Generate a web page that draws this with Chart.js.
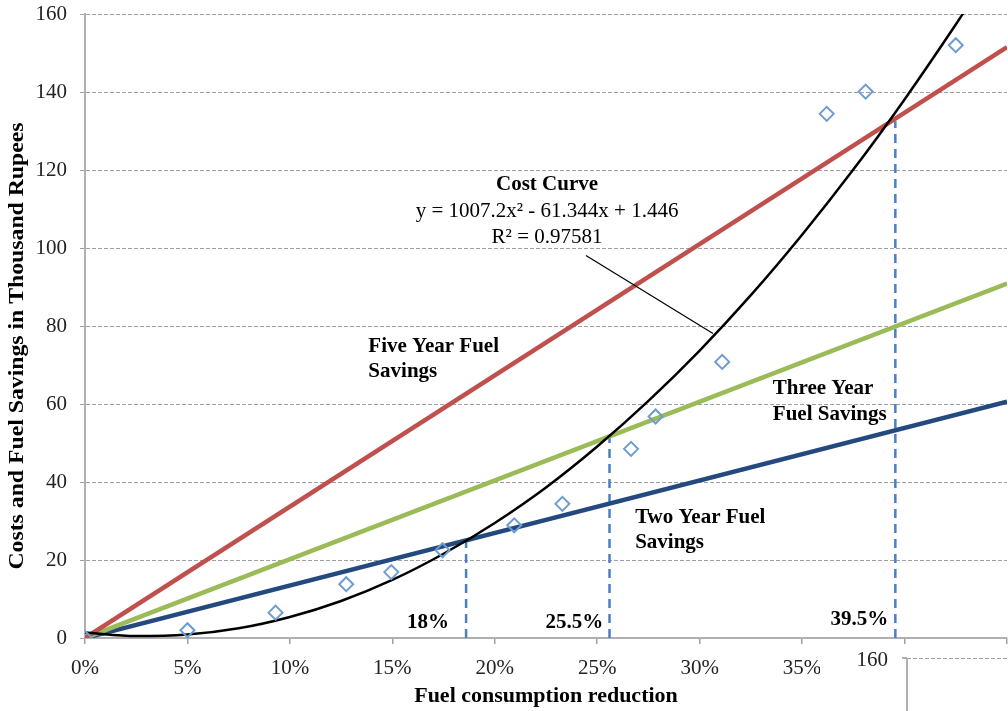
<!DOCTYPE html>
<html lang="en">
<head>
  <meta charset="UTF-8">
  <title>Cost curve and fuel savings</title>
  <style>
    html, body {
      margin: 0;
      padding: 0;
      background: #fff;
    }
    #wrap {
      width: 1008px;
      height: 711px;
    }
  </style>
</head>
<body>
  <div id="wrap"><canvas id="chart" width="1008" height="711"></canvas></div>

  <script src="https://cdn.jsdelivr.net/npm/chart.js"></script>
  <script>
    // savings lines (x in % reduction, y in thousand rupees)
    const lineX = [0, 45];
    const fiveYear = [0, 151.5];
    const threeYear = [0, 90.9];
    const twoYear = [0, 60.6];

    // cost curve
    const costX = [0, 2.5, 5, 7.5, 10, 12.5, 15, 17.5, 20, 22.5, 25, 27.5, 30, 32.5, 35, 37.5, 40, 42.5, 43];
    const costY = [1.4, 0.5, 0.9, 2.5, 5.4, 9.5, 14.9, 21.6, 29.5, 38.6, 49.1, 60.8, 73.7, 87.9, 103.4, 120.1, 138.1, 157.3, 161.3];

    // observed cost points (diamonds)
    const obsX = [0, 5.0, 9.3, 12.75, 14.95, 17.45, 20.95, 23.3, 26.65, 27.85, 31.1, 36.2, 38.1, 42.5];
    const obsY = [0, 2.0, 6.5, 13.8, 16.9, 22.5, 28.9, 34.4, 48.5, 56.8, 70.8, 134.4, 140.1, 152];

    // break-even markers
    const markX = [18.6, 25.6, 39.55];
    const markTop = [24.9, 51.7, 132.5];
    const markText = ['18%', '25.5%', '39.5%'];

    // leader line from the equation to the curve
    const leaderX = [24.45, 30.65];
    const leaderY = [98.1, 78.1];

    const pts = (xs, ys) => xs.map((v, i) => ({ x: v, y: ys[i] }));

    const SERIF = '"Liberation Serif", "Times New Roman", serif';
    Chart.defaults.font.family = SERIF;
    Chart.defaults.font.size = 21;
    Chart.defaults.color = '#222';

    const lineSet = (data, color, width) => ({
      data: data,
      showLine: true,
      borderColor: color,
      backgroundColor: color,
      borderWidth: width,
      pointRadius: 0,
      fill: false
    });

    const datasets = [];
    datasets.push({
      data: pts(obsX, obsY),
      showLine: false,
      pointStyle: 'rectRot',
      pointRadius: 7,
      pointBorderWidth: 2,
      pointBorderColor: '#6d9cd3',
      pointBackgroundColor: 'rgba(255,255,255,0)'
    });
    datasets.push(Object.assign(lineSet(pts(costX, costY), '#000', 2.5), { cubicInterpolationMode: 'monotone' }));
    datasets.push(lineSet(pts(leaderX, leaderY), '#000', 1.2));
    datasets.push(lineSet(pts(lineX, fiveYear), '#c0504d', 4.5));
    datasets.push(lineSet(pts(lineX, threeYear), '#9bbb59', 4.5));
    datasets.push(lineSet(pts(lineX, twoYear), '#24497f', 4.5));
    for (let i = 0; i < markX.length; i++) {
      datasets.push(Object.assign(
        lineSet([{ x: markX[i], y: 0 }, { x: markX[i], y: markTop[i] }], '#4a7fc4', 2.5),
        { borderDash: [9, 6] }
      ));
    }

    const notes = {
      id: 'notes',
      afterDatasetsDraw(chart) {
        const { ctx, scales: { x, y } } = chart;
        const put = (text, xv, yv, align, bold) => {
          ctx.save();
          ctx.font = (bold ? 'bold ' : '') + '21px ' + SERIF;
          ctx.fillStyle = '#000';
          ctx.textAlign = align;
          ctx.textBaseline = 'middle';
          ctx.fillText(text, x.getPixelForValue(xv), y.getPixelForValue(yv));
          ctx.restore();
        };
        put('Cost Curve', 22.55, 116.2, 'center', true);
        put('y = 1007.2x\u00B2 - 61.344x + 1.446', 22.55, 109.3, 'center', false);
        put('R\u00B2 = 0.97581', 22.55, 102.8, 'center', false);
        put('Five Year Fuel', 13.83, 74.6, 'left', true);
        put('Savings', 13.83, 68.2, 'left', true);
        put('Three Year', 33.57, 64.0, 'left', true);
        put('Fuel Savings', 33.57, 57.4, 'left', true);
        put('Two Year Fuel', 26.85, 31.0, 'left', true);
        put('Savings', 26.85, 24.4, 'left', true);
        const tx = [17.77, 25.3, 39.2];
        const ty = [3.9, 3.9, 4.6];
        markText.forEach((t, i) => put(t, tx[i], ty[i], 'right', true));
      },
      afterDraw(chart) {
        const ctx = chart.ctx;
        // y axis title, a little stretched like the original
        ctx.save();
        ctx.translate(18, 346);
        ctx.rotate(-Math.PI / 2);
        ctx.scale(1.13, 1);
        ctx.font = 'bold 21px ' + SERIF;
        ctx.fillStyle = '#000';
        ctx.textAlign = 'center';
        ctx.textBaseline = 'middle';
        ctx.fillText('Costs and Fuel Savings in Thousand Rupees', 0, 0);
        ctx.restore();

        // pasted corner of another chart covering the bottom right
        ctx.save();
        ctx.fillStyle = '#fff';
        ctx.fillRect(820, 647, 188, 64);
        ctx.font = '21px ' + SERIF;
        ctx.fillStyle = '#222';
        ctx.textAlign = 'right';
        ctx.textBaseline = 'middle';
        ctx.fillText('160', 888, 660);
        ctx.strokeStyle = '#b0b0b0';
        ctx.lineWidth = 2;
        ctx.beginPath();
        ctx.moveTo(907, 658);
        ctx.lineTo(907, 711);
        ctx.moveTo(902, 658);
        ctx.lineTo(907, 658);
        ctx.stroke();
        ctx.lineWidth = 1;
        ctx.strokeStyle = '#a0a0a0';
        ctx.setLineDash([4, 2]);
        ctx.beginPath();
        ctx.moveTo(907, 658.5);
        ctx.lineTo(1008, 658.5);
        ctx.stroke();
        ctx.restore();
      }
    };

    new Chart(document.getElementById('chart'), {
      type: 'scatter',
      data: { datasets: datasets },
      options: {
        responsive: false,
        animation: false,
        layout: { autoPadding: false, padding: { top: 14, right: 1, left: 0, bottom: 0 } },
        plugins: {
          legend: { display: false },
          tooltip: { enabled: false }
        },
        scales: {
          x: {
            type: 'linear',
            min: 0,
            max: 45,
            ticks: {
              stepSize: 5,
              padding: 12,
              maxRotation: 0,
              autoSkip: false,
              callback: v => v + '%'
            },
            grid: {
              drawOnChartArea: false,
              tickLength: 6,
              color: '#a0a0a0',
              lineWidth: 1.5
            },
            border: { color: '#b0b0b0', width: 2 },
            title: {
              display: true,
              text: 'Fuel consumption reduction',
              color: '#000',
              font: { size: 22, weight: 'bold' },
              padding: { top: 0, bottom: 1 }
            },
            afterFit: s => {
              s.height = 73;
              s.paddingLeft = 0;
              s.paddingRight = 0;
            }
          },
          y: {
            min: 0,
            max: 160,
            ticks: { stepSize: 20, padding: 13 },
            grid: { color: '#a0a0a0', lineWidth: 1, tickLength: 5 },
            border: { color: '#b0b0b0', width: 2, dash: [4, 2] },
            afterFit: s => {
              s.width = 85;
              s.paddingTop = 0;
              s.paddingBottom = 0;
            }
          }
        }
      },
      plugins: [notes]
    });
  </script>
</body>
</html>
